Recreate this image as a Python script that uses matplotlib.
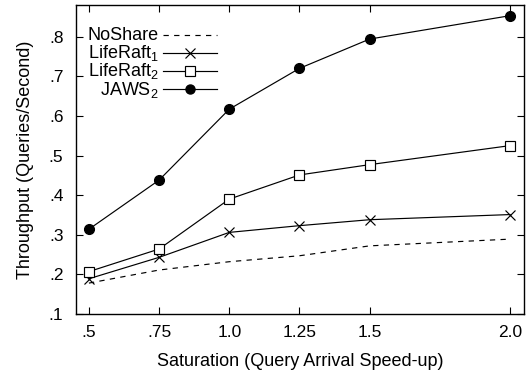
import matplotlib
matplotlib.use("Agg")
import matplotlib.pyplot as plt

plt.rcParams['font.family'] = ['Liberation Sans', 'DejaVu Sans']
plt.rcParams['mathtext.fontset'] = 'custom'
plt.rcParams['mathtext.rm'] = 'Liberation Sans'
plt.rcParams['mathtext.it'] = 'Liberation Sans'

x = [0.5, 0.75, 1.0, 1.25, 1.5, 2.0]
x_labels = ['.5', '.75', '1.0', '1.25', '1.5', '2.0']
noshare = [0.178, 0.211, 0.232, 0.247, 0.272, 0.289]
liferaft1 = [0.189, 0.243, 0.306, 0.323, 0.338, 0.351]
liferaft2 = [0.207, 0.264, 0.390, 0.451, 0.477, 0.525]
jaws2 = [0.314, 0.438, 0.617, 0.720, 0.794, 0.853]
y_ticks = [0.1, 0.2, 0.3, 0.4, 0.5, 0.6, 0.7, 0.8]
y_labels = ['.1', '.2', '.3', '.4', '.5', '.6', '.7', '.8']
series_labels = ['NoShare', r'LifeRaft$_1$', r'LifeRaft$_2$', r'JAWS$_2$']

W, H = 531, 374
AX_L, AX_R, AX_T, AX_B = 76, 524, 5, 314
fig = plt.figure(figsize=(W / 100, H / 100), dpi=100)
ax = fig.add_axes([AX_L / W, 1 - AX_B / H, (AX_R - AX_L) / W, (AX_B - AX_T) / H])

lw = 0.85
styles = [
    dict(linestyle=(0, (4.5, 4.5)), marker=None),
    dict(linestyle='-', marker='x', markeredgewidth=0.85),
    dict(linestyle='-', marker='s', markerfacecolor='white', markeredgewidth=0.85),
    dict(linestyle='-', marker='o'),
]
data = [noshare, liferaft1, liferaft2, jaws2]
for vals, st in zip(data, styles):
    ax.plot(x, vals, color='black', lw=lw, markersize=7, **st)

ax.set_xlim(0.454, 2.05)
ax.set_ylim(0.1, 0.88)
ax.set_xticks(x)
ax.set_xticklabels(x_labels)
ax.set_yticks(y_ticks)
ax.set_yticklabels(y_labels)
ax.tick_params(direction='in', top=True, right=True, length=5, width=0.8, labelsize=12.5)
ax.tick_params(axis='y', pad=9)
ax.tick_params(axis='x', pad=8)
for s in ax.spines.values():
    s.set_linewidth(1.0)

ax.set_xlabel('Saturation (Query Arrival Speed-up)', fontsize=13, labelpad=9)
ax.set_ylabel('Throughput (Queries/Second)', fontsize=13, labelpad=11)

# Manual gnuplot-style key (text right-aligned, sample to the right)
def fx(px):
    return (px - AX_L) / (AX_R - AX_L)

def fy(py):
    return (AX_B - py) / (AX_B - AX_T)

text_right = 159
line_x0, line_x1 = 163, 217
row0, row_step = 34.5, 18.2
for i, (lab, st) in enumerate(zip(series_labels, styles)):
    yc = row0 + i * row_step
    ax.text(fx(text_right), fy(yc + 5.5), lab, transform=ax.transAxes, ha='right',
            va='baseline', fontsize=13)
    ax.plot([fx(line_x0), fx(line_x1)], [fy(yc), fy(yc)], transform=ax.transAxes,
            color='black', lw=lw, linestyle=st['linestyle'], clip_on=False)
    if st['marker'] is not None:
        mst = {k: v for k, v in st.items() if k != 'linestyle'}
        ax.plot([fx((line_x0 + line_x1) / 2)], [fy(yc)], transform=ax.transAxes,
                color='black', markersize=6.5, clip_on=False, **mst)

fig.savefig('out.png', dpi=100)
